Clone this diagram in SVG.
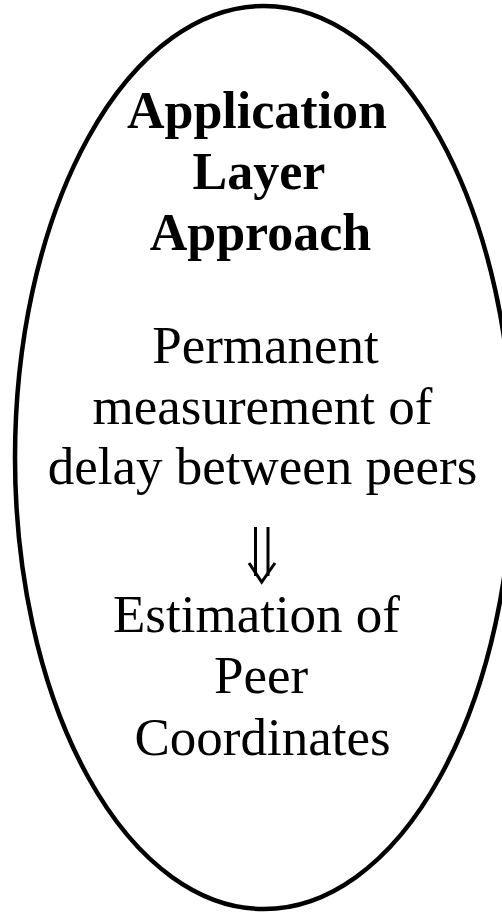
<svg xmlns="http://www.w3.org/2000/svg" width="502" height="913" viewBox="0 0 502 913">
<style>
.t{font-family:"Liberation Serif","Times New Roman",serif;font-size:53px;fill:#000;text-anchor:middle}
.b{font-weight:bold;font-size:52px}
.ln{fill:none;stroke:#000;stroke-width:3}
</style>
<rect width="502" height="913" fill="#fff"/>
<g id="ellipse-node">
<ellipse cx="264" cy="457.5" rx="249" ry="451.5" fill="#fff" stroke="#000" stroke-width="4.5"/>
</g>
<g id="title">
<text class="t b" x="257" y="128">Application</text>
<text class="t b" x="259" y="189">Layer</text>
<text class="t b" x="260.5" y="250">Approach</text>
</g>
<g id="measurement">
<text class="t" x="265.5" y="363">Permanent</text>
<text class="t" x="262.5" y="424">measurement of</text>
<text class="t" x="262.5" y="484">delay between peers</text>
</g>
<g id="estimation">
<text class="t" x="256.5" y="632">Estimation of</text>
<text class="t" x="261" y="693">Peer</text>
<text class="t" x="262.5" y="755">Coordinates</text>
</g>
<g id="connectors">
<path class="ln" d="M255.5 527V576M268 527V576"/>
<path class="ln" d="M249 563L261.7 582L275 563"/>
</g>
</svg>
